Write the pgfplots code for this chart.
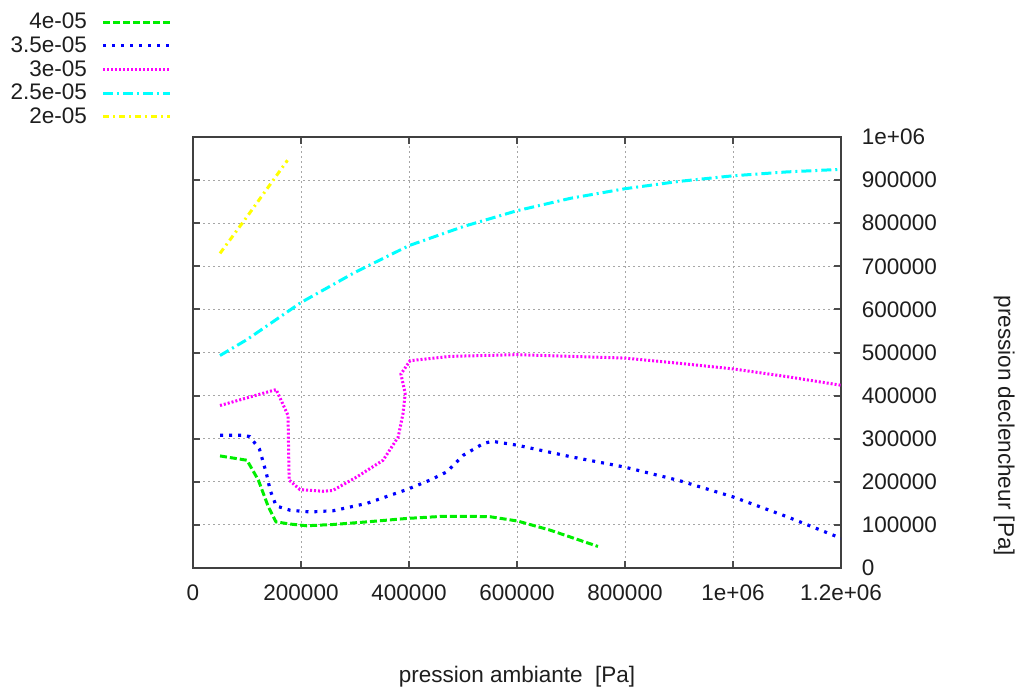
\documentclass[border=0pt]{standalone}
\usepackage{pgfplots}
\pgfplotsset{compat=1.18}
\usepackage{fontspec}
\setmainfont{Liberation Sans}
\definecolor{cgreen}{RGB}{0,238,0}
\definecolor{cblue}{RGB}{0,0,255}
\definecolor{cmag}{RGB}{255,0,255}
\definecolor{ccyan}{RGB}{0,255,255}
\definecolor{cyel}{RGB}{255,255,0}
\definecolor{txt}{RGB}{30,30,30}
\begin{document}
\begin{tikzpicture}
\useasboundingbox (0,0) rectangle (610.8pt,413.4pt);
\begin{axis}[
  at={(115.8pt,72.6pt)}, anchor=south west,
  scale only axis, width=388.8pt, height=258.6pt,
  xmin=0, xmax=1200000, ymin=0, ymax=1000000,
  xtick={0,200000,400000,600000,800000,1000000,1200000},
  xticklabels={0,200000,400000,600000,800000,1e+06,1.2e+06},
  ytick={0,100000,200000,300000,400000,500000,600000,700000,800000,900000,1000000},
  yticklabels={0,100000,200000,300000,400000,500000,600000,700000,800000,900000,1e+06},
  scaled ticks=false,
  yticklabel pos=right,
  tick align=inside, major tick length=4.2pt,
  every tick/.style={line width=1.2pt, color=black!70},
  axis line style={line width=0.9pt, color=black!75},
  tick label style={font=\fontsize{13.5}{15}\selectfont, color=txt},
  xticklabel style={yshift=-6.5pt},
  yticklabel style={xshift=9pt},
  grid=major,
  major grid style={line width=0.5pt, color=black!35, dash pattern=on 1.2pt off 1.8pt},
  xlabel={pression ambiante\ \ [Pa]},
  ylabel={pression declencheur [Pa]},
  label style={font=\fontsize{13.5}{15}\selectfont, color=txt},
  xlabel style={at={(axis description cs:0.5,-0.253)}, anchor=center},
  ylabel style={at={(axis description cs:1.252,0.33)}, anchor=center, rotate=180},
  legend plot pos=right,
  legend cell align=right,
  legend image code/.code={\draw[#1] (0pt,0pt) -- (40pt,0pt);},
  legend style={at={(axis description cs:-0.0325,1.292)}, anchor=north east,
    draw=none, fill=none, inner sep=0pt, row sep=1.5pt,
    font=\fontsize{13.5}{14.4}\selectfont, text=txt,
    /tikz/every even column/.append style={column sep=0pt},
    nodes={inner sep=0.9pt}},
  legend columns=1,
]
\addplot[cgreen, line width=1.8pt, dash pattern=on 4.2pt off 1.8pt] coordinates {
(50000,260000)(100000,250000)(121000,204000)(139500,142000)(153700,107000)(180000,102000)(210000,98000)(260000,101000)(322000,107000)(396000,115000)(464000,120000)(513000,120000)(550000,119000)(601000,109000)(661000,88000)(750000,50000)};
\addlegendentry{4e-05\hspace*{8pt}}
\addplot[cblue, line width=1.9pt, dash pattern=on 1.8pt off 3.6pt] coordinates {
(50000,308000)(91000,308000)(105000,305000)(123000,276000)(136000,219000)(143000,180000)(154000,144000)(180000,134000)(217000,130000)(260000,133000)(322000,150000)(396000,182000)(439000,204000)(470000,223000)(501000,262000)(538000,289000)(554000,294000)(600000,285000)(700000,258000)(800000,234000)(900000,203000)(1000000,165000)(1100000,119000)(1200000,69000)};
\addlegendentry{3.5e-05\hspace*{8pt}}
\addplot[cmag, line width=1.8pt, dash pattern=on 1.2pt off 1.2pt] coordinates {
(50000,377000)(154000,414000)(176000,354000)(178000,204000)(198000,182000)(241000,178000)(259000,180000)(303000,211000)(352000,250000)(380000,304000)(389000,359000)(393000,405000)(385000,450000)(402000,481000)(476000,491000)(600000,495000)(700000,491000)(800000,487000)(900000,475000)(1000000,462000)(1100000,444000)(1200000,424000)};
\addlegendentry{3e-05\hspace*{8pt}}
\addplot[ccyan, line width=1.8pt, dash pattern=on 6pt off 2.4pt on 1.2pt off 2.4pt] coordinates {
(50000,493000)(100000,530000)(200000,616000)(300000,686000)(400000,748000)(500000,792000)(600000,829000)(700000,858000)(800000,880000)(900000,897000)(1000000,910000)(1100000,919000)(1200000,925000)};
\addlegendentry{2.5e-05\hspace*{8pt}}
\addplot[cyel, line width=1.8pt, dash pattern=on 3.6pt off 2.4pt on 1.2pt off 2.4pt] coordinates {
(50000,730000)(100000,815000)(175000,946000)};
\addlegendentry{2e-05\hspace*{8pt}}
\end{axis}
\end{tikzpicture}
\end{document}
